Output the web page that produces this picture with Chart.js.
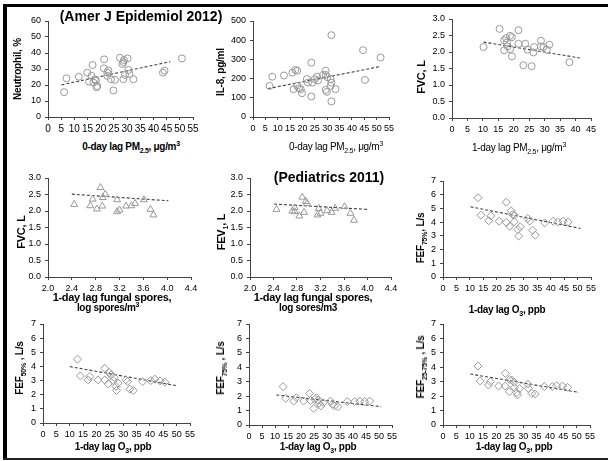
<!DOCTYPE html>
<html><head><meta charset="utf-8">
<script src="https://cdn.jsdelivr.net/npm/chart.js@4.4.0/dist/chart.umd.min.js"></script>
<style>
html,body{margin:0;padding:0;background:#fff;width:608px;height:461px;overflow:hidden;}
#wrap{position:relative;width:608px;height:461px;}
canvas{position:absolute;}
.t{position:absolute;font-family:Arial,"Liberation Sans",sans-serif;color:#000;white-space:nowrap;line-height:1;z-index:5;}
.xt{transform:translate(-50%,-50%);font-size:10px;font-weight:bold;letter-spacing:-0.3px;}
.yt{transform:translate(-50%,-50%) rotate(-90deg);font-size:10px;font-weight:bold;letter-spacing:-0.2px;}
.big{transform:translate(-50%,-50%);font-size:14px;font-weight:bold;}
sub,sup{font-size:7px;line-height:0;}
.frame{position:absolute;background:#000;}
</style>
</head><body><div id="wrap">
<div class="frame" style="left:3px;top:4px;width:4px;height:456px;"></div>
<div class="frame" style="left:3px;top:4px;width:605px;height:3px;"></div>
<div class="frame" style="left:3px;top:458px;width:605px;height:2px;background:#222;"></div>

<div class="t big" style="left:141px;top:16px;">(Amer J Epidemiol 2012)</div>
<div class="t big" style="left:329px;top:177px;">(Pediatrics 2011)</div>

<div class="t yt" style="left:18px;top:69px;">Neutrophil, %</div>
<div class="t xt" style="left:131px;top:147px;">0-day lag PM<sub>2.5</sub>, μg/m<sup>3</sup></div>
<div class="t yt" style="left:221px;top:72px;">IL-8, pg/ml</div>
<div class="t xt" style="left:336px;top:147px;font-weight:normal;">0-day lag PM<sub>2.5</sub>, μg/m<sup>3</sup></div>
<div class="t yt" style="left:421px;top:77px;font-size:11px;">FVC, L</div>
<div class="t xt" style="left:519px;top:148px;font-weight:normal;">1-day lag PM<sub>2.5</sub>, μg/m<sup>3</sup></div>

<div class="t yt" style="left:21px;top:232px;font-size:11px;">FVC, L</div>
<div class="t xt" style="left:112px;top:297px;font-size:11px;">1-day lag fungal spores,</div>
<div class="t xt" style="left:108px;top:308px;">log spores/m<sup>3</sup></div>
<div class="t yt" style="left:221px;top:232px;font-size:11px;">FEV<sub>1</sub>, L</div>
<div class="t xt" style="left:313px;top:297px;font-size:11px;">1-day lag fungal spores,</div>
<div class="t xt" style="left:308px;top:308px;">log sores/m3</div>
<div class="t yt" style="left:421px;top:238px;">FEF<sub>75%</sub>, L/s</div>
<div class="t xt" style="left:507px;top:310px;">1-day lag O<sub>3</sub>, ppb</div>

<div class="t yt" style="left:20px;top:368px;">FEF<sub>50%</sub> , L/s</div>
<div class="t xt" style="left:113px;top:447px;">1-day lag O<sub>3</sub>, ppb</div>
<div class="t yt" style="left:221px;top:368px;">FEF<sub>75%</sub> , L/s</div>
<div class="t xt" style="left:318px;top:447px;">1-day lag O<sub>3</sub>, ppb</div>
<div class="t yt" style="left:421px;top:367px;">FEF<sub>25-75%</sub> , L/s</div>
<div class="t xt" style="left:514px;top:447px;">1-day lag O<sub>3</sub>, ppb</div>
</div>
<script>
// ---- Data ----
const neutX = [6.1,7.0,11.7,14.9,15.6,16.5,16.9,17.2,17.8,18.2,18.4,18.7,21.3,21.2,22.5,22.9,22.5,23.9,24.8,25.4,27.3,28.2,28.6,28.8,30.2,28.6,29.2,30.5,30.9,32.4,43.6,44.2,50.8];
const neutY = [15.5,24.2,25.2,27.7,22.1,25.7,32.5,21.5,23.6,22.8,18.6,19.4,36.0,30.4,25.7,29.0,27.7,23.6,16.6,23.2,37.0,33.1,34.3,35.6,36.6,23.6,26.3,29.4,26.9,23.6,27.7,29.0,36.6];
const neutFit = [[5.1,20.1],[46.4,34.6]];

const il8X = [6.7,7.8,12.5,15.9,17.1,17.9,16.4,17.9,18.6,19.3,19.8,21.8,22.2,23.6,23.6,24.0,24.9,25.9,26.3,28.3,29.4,29.4,30.1,29.4,29.9,31.4,31.7,31.4,31.7,31.7,33.4,44.5,45.3,51.6];
const il8Y = [162,210,216,231,245,241,145,162,150,145,124,198,179,283,107,179,197,210,190,219,241,219,207,141,131,198,179,162,81,426,145,348,193,310];
const il8Fit = [[6.1,148],[51.2,262]];

const fvcPmX = [10.2,15.4,16.9,17.5,17.8,16.9,18.0,18.8,19.4,18.8,19.4,21.5,21.5,23.7,23.1,24.5,25.8,26.6,26.4,28.8,28.8,29.6,30.7,31.5,38.0];
const fvcPmY = [2.15,2.70,2.35,2.42,2.29,2.05,2.17,2.49,2.45,2.09,1.87,2.66,2.25,2.25,1.60,2.07,1.57,2.15,1.99,2.34,2.17,2.15,2.07,2.22,1.69];
const fvcPmFit = [[10.2,2.30],[41.4,1.82]];

const fvcSporeX = [2.44,2.71,2.75,2.82,2.88,2.91,2.92,2.96,3.16,3.16,3.20,3.31,3.40,3.46,3.61,3.72,3.77];
const fvcSporeY = [2.20,2.16,2.36,2.06,2.71,2.15,2.41,2.51,2.34,1.98,2.03,2.15,2.16,2.23,2.34,2.05,1.88];
const fvcSporeFit = [[2.40,2.51],[4.02,2.31]];

const fev1SporeX = [2.45,2.72,2.76,2.76,2.84,2.89,2.92,2.95,2.97,3.15,3.17,3.20,3.31,3.39,3.45,3.61,3.71,3.77];
const fev1SporeY = [2.05,2.00,1.98,2.10,1.85,2.42,1.96,2.29,2.23,1.88,2.08,1.93,2.01,1.96,2.08,2.13,1.93,1.72];
const fev1SporeFit = [[2.41,2.21],[3.99,2.05]];

const fef75aX = [13.0,14.1,17.8,17.0,20.9,23.5,23.5,24.8,25.3,25.9,26.5,26.5,27.8,28.1,28.7,31.5,32.2,33.3,34.3,37.8,40.9,42.6,44.6,46.5];
const fef75aY = [5.78,4.51,4.46,4.10,4.07,5.46,3.98,3.70,4.83,4.56,4.51,4.02,3.46,2.98,3.66,4.27,4.07,3.41,3.05,3.95,4.07,4.02,4.07,4.02];
const fef75aFit = [[10.2,5.12],[51.1,3.54]];

const fef50X = [12.9,14.0,16.9,17.5,20.6,23.1,23.1,24.4,24.8,25.4,26.3,26.6,27.3,27.5,28.1,31.0,31.6,32.5,33.8,37.3,40.3,41.9,43.8,45.6];
const fef50Y = [4.51,3.33,3.05,3.29,3.05,3.87,3.05,2.77,3.57,3.40,3.00,3.22,2.58,2.30,2.82,3.05,2.93,2.39,2.30,2.93,3.00,3.10,2.98,2.89];
const fef50Fit = [[10.0,3.99],[50.3,2.63]];

const fef75bX = [13.1,14.1,17.2,18.2,21.0,23.3,23.7,24.9,25.3,25.9,26.5,26.9,27.6,28.5,31.3,32.1,32.9,34.2,37.8,40.6,42.6,44.5,46.4];
const fef75bY = [2.66,1.85,1.66,1.89,1.66,2.19,1.69,1.15,1.78,1.89,1.73,1.50,1.32,1.55,1.66,1.43,1.32,1.27,1.62,1.62,1.66,1.62,1.66];
const fef75bFit = [[10.5,2.08],[50.9,1.27]];

const fef2575X = [13.1,13.9,17.0,17.7,20.8,23.3,23.3,24.8,24.9,25.7,26.6,26.7,27.6,27.9,28.6,31.7,31.9,33.2,34.5,37.9,40.9,42.5,44.7,46.6];
const fef2575Y = [4.09,3.05,2.77,3.00,2.70,3.58,2.70,2.31,3.16,3.12,2.96,2.61,2.24,2.08,2.54,2.84,2.54,2.19,2.15,2.66,2.66,2.72,2.70,2.61];
const fef2575Fit = [[10.2,3.53],[50.9,2.26]];

// axis ranges / tick steps
const xPm55 = {min:0,max:55,step:5};
const xPm45 = {min:0,max:45,step:5};
const xSpore = {min:2.0,max:4.4,step:0.4};
const yNeut = {min:0,max:60,step:10};
const yIl8 = {min:0,max:500,step:100};
const yL3 = {min:0,max:3,step:0.5};
const yLs7 = {min:0,max:7,step:1};

// ---- layout (plot-area rectangles in page pixels) ----
const panels = [
  {x:neutX,y:neutY,fit:neutFit,xa:xPm55,ya:yNeut,m:'circle',l:48,t:21,r:193,b:117,xdec:0,ydec:0,xf:10},
  {x:il8X,y:il8Y,fit:il8Fit,xa:xPm55,ya:yIl8,m:'circle',l:253,t:21,r:389,b:117,xdec:0,ydec:0},
  {x:fvcPmX,y:fvcPmY,fit:fvcPmFit,xa:xPm45,ya:yL3,m:'circle',l:452,t:19,r:591,b:118,xdec:0,ydec:1},
  {x:fvcSporeX,y:fvcSporeY,fit:fvcSporeFit,xa:xSpore,ya:yL3,m:'triangle',l:48,t:178,r:191,b:277,xdec:1,ydec:1},
  {x:fev1SporeX,y:fev1SporeY,fit:fev1SporeFit,xa:xSpore,ya:yL3,m:'triangle',l:250,t:178,r:391,b:277,xdec:1,ydec:1},
  {x:fef75aX,y:fef75aY,fit:fef75aFit,xa:xPm55,ya:yLs7,m:'rectRot',l:443,t:181,r:591,b:277,xdec:0,ydec:0},
  {x:fef50X,y:fef50Y,fit:fef50Fit,xa:xPm55,ya:yLs7,m:'rectRot',l:43,t:324,r:190,b:423,xdec:0,ydec:0},
  {x:fef75bX,y:fef75bY,fit:fef75bFit,xa:xPm55,ya:yLs7,m:'rectRot',l:249,t:324,r:392,b:425,xdec:0,ydec:0},
  {x:fef2575X,y:fef2575Y,fit:fef2575Fit,xa:xPm55,ya:yLs7,m:'rectRot',l:443,t:324,r:590,b:425,xdec:0,ydec:0}
];

const YW = 40, XH = 22, PT = 10, PR = 14;
const wrap = document.getElementById('wrap');
panels.forEach(p => {
  const c = document.createElement('canvas');
  const w = (p.r - p.l) + YW + PR, h = (p.b - p.t) + PT + XH;
  c.width = w; c.height = h;
  c.style.left = (p.l - YW) + 'px'; c.style.top = (p.t - PT) + 'px';
  c.style.width = w + 'px'; c.style.height = h + 'px';
  wrap.appendChild(c);
  const pts = p.x.map((v,i) => ({x:v, y:p.y[i]}));
  const fitPts = p.fit.map(a => ({x:a[0], y:a[1]}));
  const tickFont = {family:'Arial', size:9};
  new Chart(c, {
    data: {datasets: [
      {type:'scatter', data:pts, pointStyle:p.m, pointRadius:p.m==='circle'?3.5:4,
       pointBorderColor:'#999', pointBackgroundColor:'rgba(0,0,0,0)', pointBorderWidth:1},
      {type:'line', data:fitPts, borderColor:'#444', borderWidth:1.1, borderDash:[3,2],
       pointRadius:0, fill:false, tension:0}
    ]},
    options: {
      responsive:false, animation:false, devicePixelRatio:1,
      layout:{padding:{left:0,top:PT,right:PR,bottom:0}},
      plugins:{legend:{display:false}, tooltip:{enabled:false}, title:{display:false}},
      scales:{
        x:{type:'linear', min:p.xa.min, max:p.xa.max,
           afterFit:s=>{s.height=XH;},
           afterBuildTicks:s=>{const t=[];for(let v=p.xa.min;v<=p.xa.max+1e-9;v+=p.xa.step)t.push({value:+v.toFixed(4)});s.ticks=t;},
           ticks:{autoSkip:false,maxRotation:0,minRotation:0,padding:3,color:'#000',
                  font:{family:'Arial',size:p.xf||9},
                  callback:v=>Number(v).toFixed(p.xdec)},
           grid:{drawOnChartArea:false,drawTicks:true,tickLength:3,color:'#444'},
           border:{display:true,color:'#444',width:1}},
        y:{type:'linear', min:p.ya.min, max:p.ya.max,
           afterFit:s=>{s.width=YW;},
           afterBuildTicks:s=>{const t=[];for(let v=p.ya.min;v<=p.ya.max+1e-9;v+=p.ya.step)t.push({value:+v.toFixed(4)});s.ticks=t;},
           ticks:{autoSkip:false,padding:4,color:'#000',font:tickFont,
                  callback:v=>Number(v).toFixed(p.ydec)},
           grid:{drawOnChartArea:false,drawTicks:true,tickLength:3,color:'#444'},
           border:{display:true,color:'#444',width:1}}
      }
    }
  });
});
</script>
</body></html>
